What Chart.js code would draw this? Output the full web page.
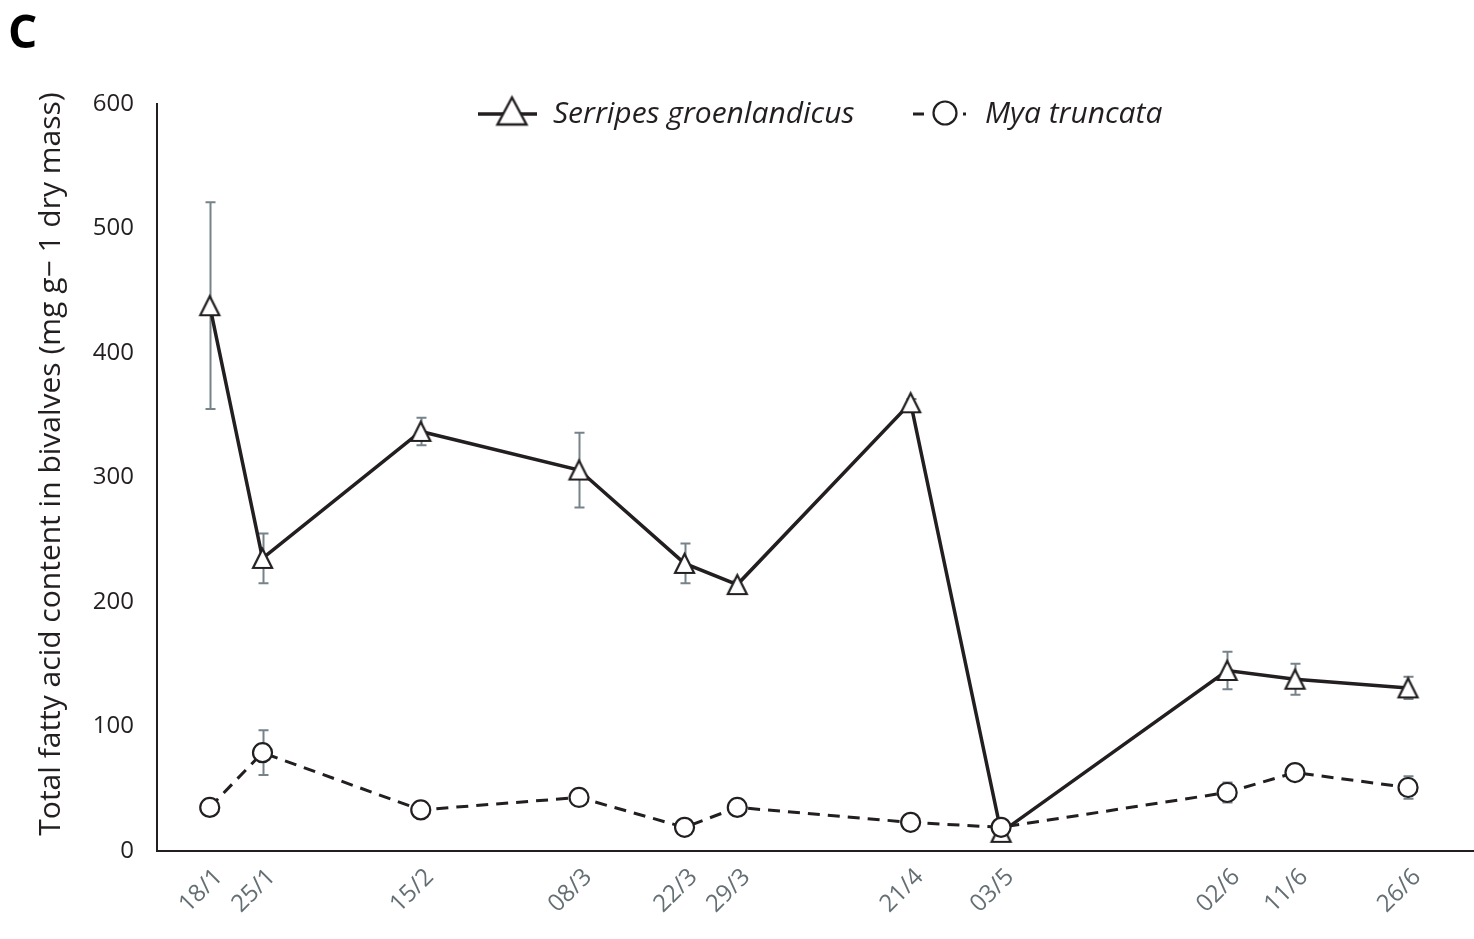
<!DOCTYPE html>
<html>
<head>
<meta charset="utf-8">
<script src="https://cdn.jsdelivr.net/npm/chart.js@4.4.1/dist/chart.umd.min.js"></script>
<style>
  html, body { margin: 0; padding: 0; background: #ffffff; }
  #wrap { position: relative; width: 1474px; height: 939px; }
  canvas { display: block; }
</style>
</head>
<body>
<div id="wrap"><canvas id="chart" width="1474" height="939"></canvas></div>
<script>
// Sampling dates (label and day of year)
const dateLabels = ['18/1', '25/1', '15/2', '08/3', '22/3', '29/3', '21/4', '03/5', '02/6', '11/6', '26/6'];
const sampleDay = [18, 25, 46, 67, 81, 88, 111, 123, 153, 162, 177];

// Total fatty acid content (mg g-1 dry mass) and error
const serripes = [438, 235, 337, 306, 231, 214, 360, 15, 145, 138, 131];
const serripesErr = [83, 20, 11, 30, 16, 3, 3, 3, 15, 12.5, 9];
const mya = [35, 79, 33, 43, 19, 35, 23, 19, 47, 63, 51];
const myaErr = [3, 18, 3, 3, 3, 3, 3, 3, 8, 3, 9];

const yTicks = [0, 100, 200, 300, 400, 500, 600];

const INK = '#231f20';
const ERR = '#77838a';
const FONT = "'Open Sans', 'Noto Sans', sans-serif";

// Open triangle marker, centred on its bounding box
function triangleMarker(w, h, lw) {
  const pad = Math.ceil(lw) + 1;
  const c = document.createElement('canvas');
  c.width = w + pad * 2;
  c.height = h + pad * 2;
  const g = c.getContext('2d');
  g.beginPath();
  g.moveTo(pad + w / 2, pad);
  g.lineTo(pad + w, pad + h);
  g.lineTo(pad, pad + h);
  g.closePath();
  g.fillStyle = '#ffffff';
  g.fill();
  g.lineWidth = lw;
  g.lineJoin = 'miter';
  g.strokeStyle = INK;
  g.stroke();
  return c;
}

const triSmall = triangleMarker(19, 19, 2.2);
const triLegend = triangleMarker(29, 27, 2.4);

const toPoints = (ys) => sampleDay.map((d, i) => ({ x: d, y: ys[i] }));

const overlay = {
  id: 'overlay',
  beforeDatasetsDraw(chart) {
    const { ctx, scales: { x, y } } = chart;
    ctx.save();
    ctx.strokeStyle = ERR;
    ctx.lineWidth = 2;
    const bars = [[serripes, serripesErr], [mya, myaErr]];
    bars.forEach(([vals, errs]) => {
      vals.forEach((v, i) => {
        const px = Math.round(x.getPixelForValue(sampleDay[i])) + 0.5;
        const top = y.getPixelForValue(v + errs[i]);
        const bot = y.getPixelForValue(v - errs[i]);
        ctx.beginPath();
        ctx.moveTo(px, top); ctx.lineTo(px, bot);
        ctx.moveTo(px - 5, top); ctx.lineTo(px + 5, top);
        ctx.moveTo(px - 5, bot); ctx.lineTo(px + 5, bot);
        ctx.stroke();
      });
    });
    ctx.restore();
  },
  afterDraw(chart) {
    const { ctx } = chart;
    ctx.save();

    // panel letter
    ctx.fillStyle = '#000000';
    ctx.font = `bold 46px ${FONT}`;
    ctx.textAlign = 'left';
    ctx.textBaseline = 'alphabetic';
    ctx.fillText('C', 8, 48);

    // y axis title
    ctx.save();
    ctx.translate(51, 464);
    ctx.rotate(-Math.PI / 2);
    ctx.font = `30px ${FONT}`;
    ctx.fillStyle = INK;
    ctx.textAlign = 'center';
    ctx.textBaseline = 'middle';
    ctx.fillText('Total fatty acid content in bivalves (mg g\u2212 1 dry mass)', 0, 0);
    ctx.restore();

    // legend
    ctx.strokeStyle = INK;
    ctx.lineWidth = 3.5;
    ctx.beginPath();
    ctx.moveTo(478, 114); ctx.lineTo(537, 114);
    ctx.stroke();
    ctx.drawImage(triLegend, 512 - triLegend.width / 2, 111 - triLegend.height / 2);

    ctx.lineWidth = 3;
    ctx.beginPath();
    ctx.moveTo(913, 114); ctx.lineTo(924, 114);
    ctx.moveTo(963, 114); ctx.lineTo(966, 114);
    ctx.stroke();
    ctx.lineWidth = 2.2;
    ctx.beginPath();
    ctx.arc(945, 113, 11.5, 0, Math.PI * 2);
    ctx.fillStyle = '#ffffff';
    ctx.fill();
    ctx.stroke();

    ctx.fillStyle = INK;
    ctx.font = `italic 30px ${FONT}`;
    ctx.textAlign = 'left';
    ctx.textBaseline = 'alphabetic';
    ctx.fillText('Serripes groenlandicus', 553, 123);
    ctx.fillText('Mya truncata', 985, 123);

    ctx.restore();
  }
};

new Chart(document.getElementById('chart'), {
  type: 'line',
  data: {
    datasets: [
      {
        label: 'Mya truncata',
        data: toPoints(mya),
        order: 0,
        borderColor: INK,
        borderWidth: 3,
        borderDash: [12, 8],
        tension: 0,
        pointStyle: 'circle',
        pointRadius: 9.5,
        pointBorderWidth: 2.2,
        pointBorderColor: INK,
        pointBackgroundColor: '#ffffff'
      },
      {
        label: 'Serripes groenlandicus',
        data: toPoints(serripes),
        order: 1,
        borderColor: INK,
        borderWidth: 3.5,
        tension: 0,
        pointStyle: triSmall,
        pointRadius: 10
      }
    ]
  },
  options: {
    responsive: false,
    animation: false,
    events: [],
    layout: { autoPadding: false, padding: { top: 104, right: 0, left: 0, bottom: 0 } },
    plugins: { legend: { display: false }, tooltip: { enabled: false }, title: { display: false } },
    scales: {
      x: {
        type: 'linear',
        position: 'bottom',
        min: 11,
        max: 185.75,
        grid: { display: false, drawTicks: false },
        border: { display: true, color: INK, width: 2 },
        afterBuildTicks: (s) => { s.ticks = sampleDay.map(v => ({ value: v })); },
        afterFit: (s) => { s.height = 88; s.paddingLeft = 0; s.paddingRight = 0; },
        ticks: {
          autoSkip: false,
          minRotation: 45,
          maxRotation: 45,
          padding: 12,
          labelOffset: 9,
          color: '#646f74',
          font: { family: FONT, size: 24 },
          callback: (v, i) => dateLabels[i]
        }
      },
      y: {
        min: 0,
        max: 600,
        grid: { display: false, drawTicks: false },
        border: { display: true, color: INK, width: 2 },
        afterBuildTicks: (s) => { s.ticks = yTicks.map(v => ({ value: v })); },
        afterFit: (s) => { s.width = 157; },
        ticks: {
          padding: 23,
          color: INK,
          font: { family: FONT, size: 24 }
        }
      }
    }
  },
  plugins: [overlay]
});
</script>
</body>
</html>
